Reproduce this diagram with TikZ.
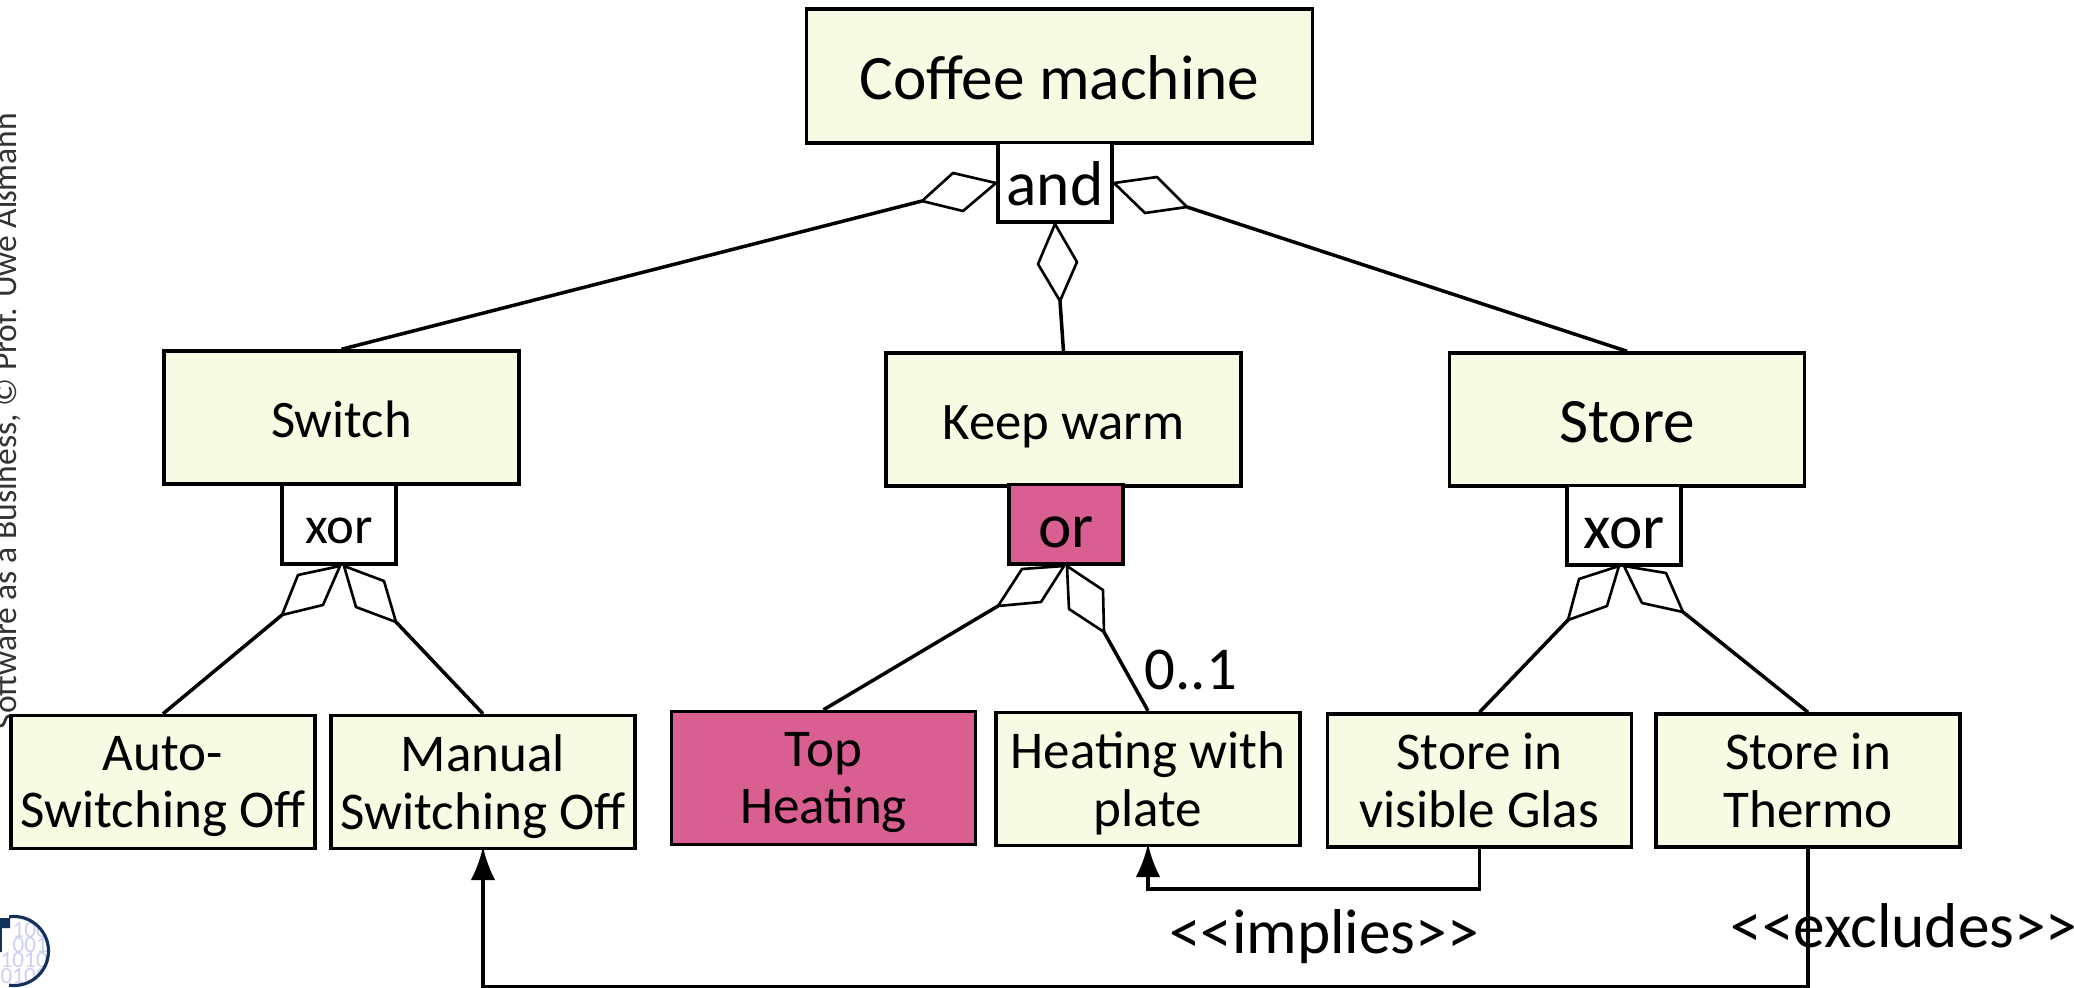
\documentclass[tikz,border=0pt]{standalone}
\usepackage{fontspec}
\setmainfont{Carlito}
\usetikzlibrary{arrows.meta}
\definecolor{featurefill}{HTML}{F8FBE3}
\definecolor{pickfill}{HTML}{D95F92}
\definecolor{logoblue}{HTML}{12325C}
\definecolor{logodigit}{HTML}{CFCFF2}
\tikzset{
  feature/.style={draw,line width=1pt,fill=featurefill,inner sep=0pt,minimum width=#1,minimum height=37.8pt,align=center},
  feature/.default=86.5pt,
  group/.style={draw,line width=1pt,fill=white,inner sep=0pt,minimum width=32.4pt,minimum height=22.6pt},
  bigtext/.style={font=\fontsize{18}{20}\selectfont,text height=13.1pt,text depth=0pt},
  midtext/.style={font=\fontsize{15}{17}\selectfont,text height=11.2pt,text depth=0pt},
  leaftext/.style={font=\fontsize{15.1}{16.4}\selectfont},
  labeltext/.style={font=\fontsize{18}{20}\selectfont},
  aggr/.style={draw,line width=0.75pt,line join=round},
  link/.style={line width=1pt},
  dep/.style={line width=1pt,shorten >=-1pt,-{Latex[length=9.5pt,width=7pt]}}
}
\begin{document}
\begin{tikzpicture}[x=0.01cm,y=-0.01cm]
      \useasboundingbox (0,0) rectangle (2074,987);
      % Copyright line
      \node[rotate=90,anchor=base west,inner sep=0pt,text=black!80,font=\fontsize{9.55}{11}\selectfont] (copyright) at (16,730) {Software as a Business, © Prof. Uwe Aßmann};
      % Logo
      \begin{scope}
        \clip (14,951) circle (35);
        \foreach \r/\yy/\xx/\bits in {a/930/12/100,b/945/12/001,c/960/0/1010,d/976/0/0100}
          \node[anchor=west,inner sep=0pt,text=logodigit,font=\fontsize{6.6}{7}\selectfont] (logo\r) at (\xx,\yy) {\bits};
      \end{scope}
      \begin{scope}
        \clip (9,900) rectangle (60,987);
        \draw[logoblue,line width=0.9pt] (14,951) circle (34.5);
      \end{scope}
      \fill[logoblue] (0,918) rectangle (10,928) (0,918) rectangle (2,952);
      % Root
      \node[feature=144pt,minimum height=38pt,bigtext] (coffee) at (1059.5,76) {Coffee machine};
      \node[group,bigtext] (and) at (1055,182) {and};
      % Middle row
      \node[feature=101pt,midtext] (switch) at (341.5,417.5) {Switch};
      \node[feature=101pt,midtext] (keepwarm) at (1063.5,419.5) {Keep warm};
      \node[feature=101pt,bigtext] (store) at (1627,419.5) {Store};
      \node[group,midtext] (xorA) at (339,524) {xor};
      \node[group,fill=pickfill,bigtext] (orB) at (1066,524) {or};
      \node[group,bigtext] (xorC) at (1624,525) {xor};
      % Leaves
      \node[feature,leaftext] (auto) at (163,782) {Auto-\\\smash{Switching Off}};
      \node[feature,leaftext] (manual) at (483,782) {Manual\\\smash{Switching Off}};
      \node[feature,fill=pickfill,leaftext] (top) at (823.5,778) {Top\\\smash{Heating}};
      \node[feature,leaftext] (heating) at (1148,779) {Heating with\\\smash{plate}};
      \node[feature,leaftext] (visible) at (1479.5,780.5) {Store in\\visible Glas};
      \node[feature,leaftext] (thermo) at (1808,780.5) {Store in\\Thermo};
      % Diamonds: tip, side, tail, side
      \foreach \n/\ax/\ay/\bx/\by/\cx/\cy/\dx/\dy in {
        andL/996/183/953/173/922/201/963/211,
        andR/1114/183/1157/177/1187/207/1145/213,
        andM/1055/224/1077/262/1060/301/1038/264,
        xorL/340/566/298/575/282/615/323/605,
        xorR/344/566/384/581/396/622/356/607,
        orL/1064/566/1022/569/998/606/1041/602,
        orR/1067/566/1103/590/1104/632/1069/609,
        storeL/1619/566/1579/579/1568/620/1607/606,
        storeR/1624/566/1666/573/1683/612/1642/603}{
        \draw[aggr] (\ax,\ay) -- (\bx,\by) -- (\cx,\cy) -- (\dx,\dy) -- cycle;
        \coordinate (\n) at (\cx,\cy);
      }
      % Aggregation lines
      \draw[link] (andL) -- (switch.north);
      \draw[link] (andR) -- (store.north);
      \draw[link] (andM) -- (keepwarm.north);
      \draw[link] (xorL) -- (auto.north);
      \draw[link] (xorR) -- (manual.north);
      \draw[link] (orL) -- (top.north);
      \draw[link] (orR) -- (heating.north);
      \draw[link] (storeL) -- (visible.north);
      \draw[link] (storeR) -- (thermo.north);
      % Constraints
      \draw[dep] (visible.south) -- ++(0,40.5) -| (heating.south);
      \draw[dep] (thermo.south) -- ++(0,138.5) -| (manual.south);
      % Labels
      \node[font=\fontsize{17.3}{20}\selectfont] (cardinality) at (1191,670) {0..1};
      \node[labeltext] (implies) at (1324,937) {<{}<implies>{}>};
      \node[anchor=west,inner sep=0pt,labeltext] (excludes) at (1730,926) {<{}<excludes>{}>};
    \end{tikzpicture}
\end{document}
